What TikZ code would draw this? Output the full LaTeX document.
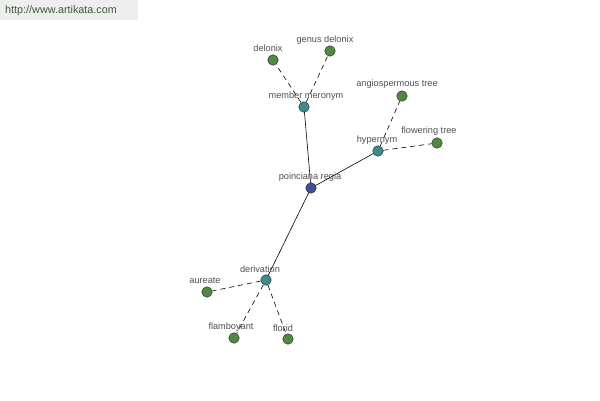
\documentclass[tikz,border=0pt]{standalone}
\usepackage{fontspec}
\setmainfont{Liberation Sans}
\definecolor{hubc}{HTML}{3F4F95}
\definecolor{midc}{HTML}{3D8C8C}
\definecolor{leafc}{HTML}{4F8A40}
\definecolor{txtc}{HTML}{505050}
\definecolor{wmbg}{HTML}{EEEEEE}
\definecolor{wmtxt}{HTML}{3F5A3A}
\begin{document}
\begin{tikzpicture}[x=1pt,y=-1pt,
  dot/.style={circle,draw=black!80,line width=0.5pt,minimum size=10.5pt,inner sep=0pt},
  hub/.style={dot,fill=hubc},
  mid/.style={dot,fill=midc},
  leaf/.style={dot,fill=leafc},
  lbl/.style={text=txtc,font=\fontsize{9.2}{10}\selectfont,inner sep=0pt},
  solidlink/.style={draw=black,line width=0.6pt},
  dashlink/.style={draw=black,line width=0.6pt,dash pattern=on 5pt off 4pt}]
\useasboundingbox (0,0) rectangle (600,400);
\fill[white] (0,0) rectangle (600,400);
\node[fill=wmbg,minimum width=138pt,minimum height=20pt,anchor=north west,inner sep=0pt] (wm) at (0,0) {};
\node[text=wmtxt,font=\fontsize{10.8}{12}\selectfont,anchor=west,inner sep=0pt] (wmt) at (5,10.5) {http://www.artikata.com};
% links
\coordinate (cpr) at (311,188);
\coordinate (cmm) at (304,107);
\coordinate (chy) at (378,151);
\coordinate (cde) at (266,280);
\draw[solidlink] (cpr) -- (cmm);
\draw[solidlink] (cpr) -- (chy);
\draw[solidlink] (cpr) -- (cde);
% nodes
\node[hub] (pr) at (cpr) {};
\node[mid] (mm) at (cmm) {};
\node[mid] (hy) at (chy) {};
\node[mid] (de) at (cde) {};
\node[leaf] (dl) at (273,60) {};
\node[leaf] (gd) at (330,51) {};
\node[leaf] (at) at (402,96) {};
\node[leaf] (ft) at (437,143) {};
\node[leaf] (au) at (207,292) {};
\node[leaf] (fb) at (234,338) {};
\node[leaf] (fl) at (288,339) {};
\draw[dashlink] (mm) -- (dl);
\draw[dashlink] (mm) -- (gd);
\draw[dashlink] (hy) -- (at);
\draw[dashlink] (hy) -- (ft);
\draw[dashlink] (de) -- (au);
\draw[dashlink] (de) -- (fb);
\draw[dashlink] (de) -- (fl);
% labels
\node[lbl] (lpr) at (310,177) {poinciana regia};
\node[lbl] (lmm) at (306,96) {member meronym};
\node[lbl] (lhy) at (377,140) {hypernym};
\node[lbl] (lde) at (260,269) {derivation};
\node[lbl] (ldl) at (268,48) {delonix};
\node[lbl] (lgd) at (325,40) {genus delonix};
\node[lbl] (lat) at (397,84) {angiospermous tree};
\node[lbl] (lft) at (429,131) {flowering tree};
\node[lbl] (lau) at (205,281) {aureate};
\node[lbl] (lfb) at (231,327) {flamboyant};
\node[lbl] (lfl) at (283,328) {florid};
\end{tikzpicture}
\end{document}
